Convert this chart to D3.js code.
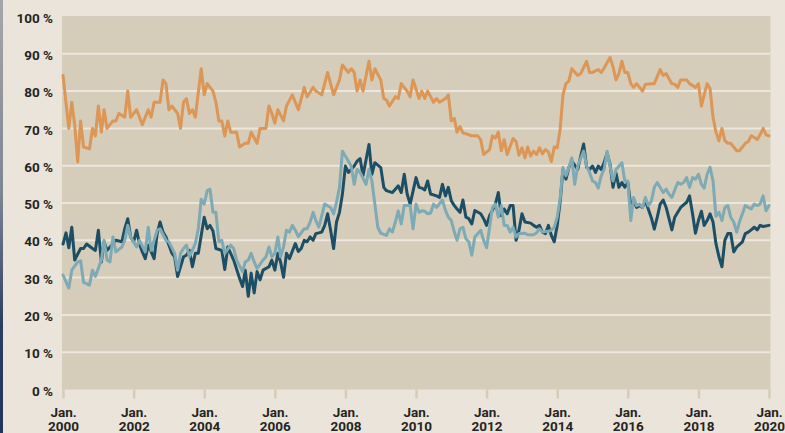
<!DOCTYPE html>
<html>
<head>
<meta charset="utf-8">
<script src="https://cdn.jsdelivr.net/npm/d3@7"></script>
<style>
  html, body { margin: 0; padding: 0; background: #eae4da; }
  svg { display: block; }
  .axis text { font-family: Roboto, "DejaVu Sans", sans-serif; font-weight: 700; font-size: 13.5px; fill: #262421; }
</style>
</head>
<body>
<div id="chart"></div>
<script>
// monthly values, Jan 2000 .. Jan 2020 (one row per year), null = not read
var startYear = 2000;

var orangeSeries = [
  84.2, null, 70, 77, 71, 61, 72, 65, null, 64.5, 70, 68,
  76, 69, 75, 70, null, 72, 72, 74, null, 73, 80, 73,
  null, 75, null, 71, null, 75, 73, 77, null, 77, 83, 82,
  75, 76, null, 74, 70, 77, 78, 74, 75, 73, null, 86,
  79, 82, null, 80, 77, 72, 72, 68, 72, 69, null, 69,
  65, null, 66, 66, 69, null, 66, 70, null, 70, 76, 74,
  71.4, 75, null, 72, 76, null, 79, null, 75, null, 81, 78.5,
  null, 81, 80, null, 79, 82, 85, null, 79, null, 83, 87,
  null, 85, 86, 85, 80, 83, 80, null, 88, 83, 86, null,
  83, 78, 77.6, 76, null, 78.5, 78, 82, null, 80, 78.5, 83,
  null, 78, 80, 78, 80, 78.5, 77, 78, 77, null, 78, 79,
  72, 72.7, 69, 70.5, 68.8, null, 68.3, 68, null, 68, 67, 63,
  null, 64.3, 68, 67.4, 69, 64, 67, 63, null, 67.3, 66.5, 62.8,
  64.8, 62.1, 65, 62.6, 63.9, 63, 64.8, 63.2, 64.3, 63.7, 61.1, 65,
  64.8, 70, 79, 82, 82.7, 86, null, 84.2, 84.7, null, 88, 85,
  85, null, 85.8, 85, 86.2, null, 89, 86.5, 83, 84.7, 88, 85,
  85, 82, 81, 82, null, 80, 81.8, null, 82, 82, null, 85.8,
  84.2, 84.7, 83.4, 82, 81.8, 81, 83, null, 83, 82, null, 81,
  82, 76, 79, 82, 80.7, 73, 69, 66.7, 70, 66.7, 66, 66,
  65, 64, 64, null, 66, 66.5, 68, 67.6, 67, 68.3, 70, 68.3,
  68
];

var navySeries = [
  39, 42, 38, 43.5, 34.7, null, 37.8, 37.8, 39, null, 37.8, 37.3,
  42.7, 34.2, 39.6, 37.3, null, 39.1, 40, null, 39.6, 43.1, 45.8, 40.9,
  39.6, 42.7, 39.1, 36.9, 35.1, 38.7, null, 35.1, 41.8, 44.9, 42.2, 40.9,
  null, 36.5, 35.6, 30.3, 32.9, 35.6, 36, 37.3, 32.9, 36.5, 36.5, null,
  46.2, 43.1, 44, 42.5, 37.8, null, 37.3, 32.2, 38.2, 36.5, 34.7, null,
  29.8, 27.6, 32, 25, 31.2, 25.9, 31.6, 29.4, 32, null, 32.9, 34.7,
  32, 36.5, 34.2, 30.1, 36.5, 35.1, null, 39.1, 37, 37.8, 40, 39.6,
  40.9, 40, 41.8, null, 42.2, 44, 47.1, 42.7, 37.8, 44.9, 47.5, 52.4,
  59.9, 58.2, null, 59.9, 61.2, 61.9, 57.3, null, 65.7, 57.7, 60.8, null,
  59.5, 54.2, 53.3, null, 52.8, 53.7, 54.6, 52.8, 57.7, 52.4, 49.7, null,
  56.8, 54.2, 54, 53.5, 55.9, 52.4, null, 51.9, 51.5, 55, 51.9, 54.2,
  50.6, 49.3, 48.4, 47.5, 50.8, 46.2, 45.8, 44.4, 48, null, 47.1, 45.8,
  44, 46.6, 48, 49.7, 52.8, 46.6, 48.4, 47.1, 49.3, 49.3, 40, 42.7,
  47.1, 44.9, null, 44.6, 44, 43.5, 44, 42.2, 41.8, 44, 41.3, 39.6,
  44, 50.6, 59, 56.4, 59.5, 61.2, null, 59, 62.6, 65.8, 59.6, 59,
  59.9, 58.2, 59.9, 59, 60.8, 63.4, 60.4, 54.2, 58, 54.2, 55.5, 54.2,
  55.5, 49.3, 50.6, 48.8, 49.3, 48.8, 50.6, null, 46, 43, 46.2, 49.7,
  50.8, 48.8, null, 42.8, 46.2, 47.5, 48.8, null, 50.2, 51.9, 47.1, 41.9,
  45.3, 47.8, 44, 45.3, 47.1, 44.9, 39.1, 35.6, 32.9, 40, 41.8, 41.8,
  36.9, 38.2, null, 39.6, 41.8, 42.2, 42.8, 43.5, 42.8, 44, 43.7, null,
  44
];

var lightSeries = [
  30.7, null, 27.2, 32, null, 34.2, 34.5, 28.7, null, 28, 32, 30.3,
  null, 34.7, 40, 34.7, 34.2, 40.9, 36.9, null, 38.2, 40, 44, 40.9,
  null, 38.2, 40, null, 36.9, 43.5, 37.3, null, 42.7, 43.1, null, 40,
  39.6, null, 36.5, 32, 36.5, 37.8, 38.7, 35.6, null, 39.1, 43.1, 51,
  49.7, 53.3, 53.7, 47.5, 47.5, 39.6, 40, 36.5, null, 38.7, 37.8, 34.7,
  null, 31.6, 34.2, 34.7, 36.5, 34.2, 32.5, null, 34.7, 35.6, 38.2, 35.6,
  36.5, 40.9, 35.6, 38.2, 42.7, 42.2, 44, 42.7, 41, null, 43.1, 43.1,
  44.9, 47.5, 45.3, 43.5, null, 49.7, null, 48.8, 47.1, 50.2, 54.2, 63.9,
  62.6, 61.2, 59.9, 55, 59, 58.2, null, 55, 59, 55.9, 49.7, 43.5,
  41.9, null, 41.3, 43.1, 42.2, 44.9, 47.9, 44.4, 49.3, null, 49.3, 43.1,
  49.7, 47.5, 47.9, 47.8, 47.1, 47.3, 49.7, 48.8, null, 50.8, 48, 46.2,
  45.3, 42.2, 40, 43.1, 43.5, 40.4, 39.6, 36, 40.9, null, 42.7, 40,
  38, 43.5, 48.8, 49.7, 46.2, 49.3, 44, 44, 42.2, 43.5, 40.9, 41.8,
  null, 41.9, 41.5, null, 41.5, 42, 43.1, 42.2, null, 42.4, 42.7, 43.5,
  46.2, 51.5, 59.5, 57.3, 59.5, 62.1, 55, 59.9, null, 63.9, 59.9, 58.2,
  55.9, 55.5, 54, 57.3, 59, 63.9, 59.9, 55.9, 59, null, 60.8, 55.9,
  55.9, 45.3, 51.5, 49.3, 49.7, 48.8, 51.5, 49.3, 50.5, 54.2, 55.5, null,
  52.8, 53.7, 52.4, 51.5, null, 55.5, 55, 55.5, 56.8, 54.2, 56.8, 56.4,
  57.7, 55, 54, 57.7, 59.6, 55.9, 46.4, 47.5, 45.3, 48.8, 49.3, 46.2,
  44.9, 42.2, 44.9, 47.1, 49.3, null, 48.4, 49.7, 49.3, 49.7, 51.9, 47.9,
  49.3
];

var yTicks = [0, 10, 20, 30, 40, 50, 60, 70, 80, 90, 100];
var xTickYears = [2000, 2002, 2004, 2006, 2008, 2010, 2012, 2014, 2016, 2018, 2020];

// layout
var width = 785, height = 433,
    plot = {left: 62, right: 770.5, top: 16, bottom: 389.5};

var months = orangeSeries.map(function(d, i) { return new Date(startYear, i, 1); });

var x = d3.scaleTime()
    .domain([new Date(2000, 0, 1), new Date(2020, 0, 1)])
    .range([63, 769]);

var y = d3.scaleLinear()
    .domain([0, 100])
    .range([plot.bottom, plot.top + 0.5]);

var svg = d3.select("#chart").append("svg")
    .attr("width", width)
    .attr("height", height);

// left edge strip
var grad = svg.append("defs").append("linearGradient")
    .attr("id", "edge").attr("x1", 0).attr("x2", 0).attr("y1", 0).attr("y2", 1);
grad.append("stop").attr("offset", "0%").attr("stop-color", "#a4a7a9");
grad.append("stop").attr("offset", "45%").attr("stop-color", "#7d8592");
grad.append("stop").attr("offset", "75%").attr("stop-color", "#2c3e60");
grad.append("stop").attr("offset", "100%").attr("stop-color", "#22345a");
svg.append("rect")
    .attr("x", 0).attr("y", 0).attr("width", 3).attr("height", height)
    .attr("fill", "url(#edge)");

// plot background
svg.append("rect")
    .attr("x", plot.left).attr("y", plot.top)
    .attr("width", plot.right - plot.left).attr("height", plot.bottom - plot.top)
    .attr("fill", "#d5ccb9");

// gridlines
svg.append("g")
    .selectAll("line")
    .data(yTicks.filter(function(d) { return d > 0 && d < 100; }))
    .enter().append("line")
    .attr("x1", plot.left).attr("x2", plot.right)
    .attr("y1", function(d) { return y(d); })
    .attr("y2", function(d) { return y(d); })
    .attr("stroke", "#ece6dc")
    .attr("stroke-width", 2);

// y axis labels
var yAxis = svg.append("g")
    .attr("class", "axis")
    .attr("transform", "translate(" + 53 + ",0)")
    .call(d3.axisLeft(y).tickValues(yTicks).tickSize(0).tickPadding(0)
        .tickFormat(function(d) { return d + " %"; }));
yAxis.select(".domain").remove();
yAxis.selectAll("text").attr("dy", "0.42em");

// x axis: ticks below the plot, two-line labels
var xAxis = svg.append("g")
    .attr("class", "axis")
    .attr("transform", "translate(0," + plot.bottom + ")")
    .call(d3.axisBottom(x)
        .tickValues(xTickYears.map(function(yr) { return new Date(yr, 0, 1); }))
        .tickSize(9).tickFormat(""));
xAxis.select(".domain").remove();
xAxis.selectAll(".tick line")
    .attr("stroke", "#d5ccb9")
    .attr("stroke-width", 2.5);
xAxis.selectAll(".tick").append("text")
    .attr("text-anchor", "middle")
    .each(function(d) {
        var t = d3.select(this);
        t.append("tspan").attr("x", 0).attr("y", 27).text("Jan.");
        t.append("tspan").attr("x", 0).attr("y", 41.5).text(d.getFullYear());
    });

// lines
var line = d3.line()
    .x(function(d) { return x(d.date); })
    .y(function(d) { return y(d.value); });

function points(values) {
    return values.map(function(v, i) { return {date: months[i], value: v}; })
        .filter(function(d) { return d.value != null; });
}

var series = [
    {values: orangeSeries, color: "#dc9655"},
    {values: navySeries, color: "#1c4e66"},
    {values: lightSeries, color: "#7eaab6"}
];

svg.append("g")
    .selectAll("path")
    .data(series)
    .enter().append("path")
    .attr("d", function(s) { return line(points(s.values)); })
    .attr("fill", "none")
    .attr("stroke", function(s) { return s.color; })
    .attr("stroke-width", 3)
    .attr("stroke-linejoin", "round")
    .attr("stroke-linecap", "round");
</script>
</body>
</html>
